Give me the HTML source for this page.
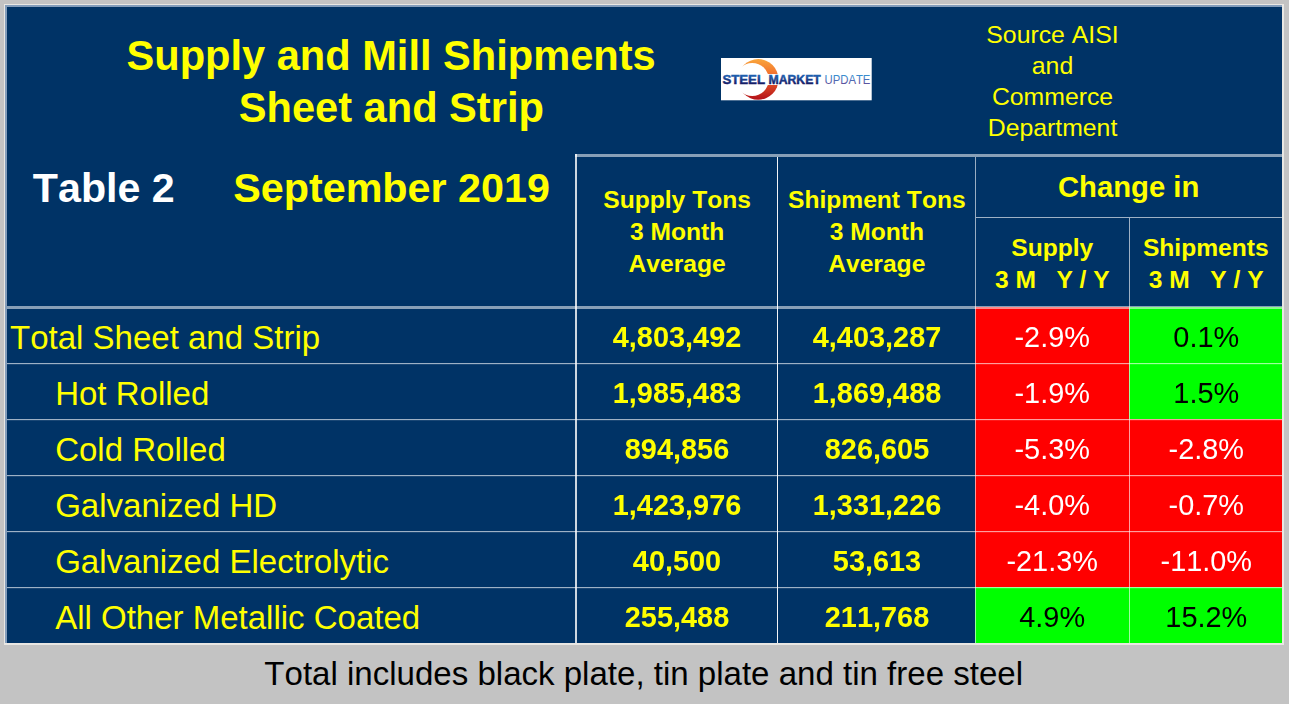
<!DOCTYPE html>
<html><head><meta charset="utf-8"><title>Supply and Mill Shipments</title>
<style>
html,body{margin:0;padding:0}
html,body{width:1289px;height:704px;overflow:hidden;background:#c3c3c3}
#c{position:relative;width:1289px;height:704px;overflow:hidden;background:#c3c3c3;font-family:"Liberation Sans",sans-serif}
.r{position:absolute}
.t{position:absolute;white-space:pre;margin:0;padding:0;font-kerning:none;font-variant-ligatures:none}
</style></head><body><div id="c">
<div class="r" style="left:4px;top:4px;width:1280px;height:641px;background:#e9e7e3"></div>
<div class="r" style="left:5px;top:5px;width:1277px;height:638px;background:#839dbb"></div>
<div class="r" style="left:7px;top:7px;width:1275px;height:636px;background:#003366"></div>
<div class="r" style="left:975px;top:307px;width:154px;height:56px;background:#ff0000"></div>
<div class="r" style="left:1129px;top:307px;width:153px;height:56px;background:#00ff00"></div>
<div class="r" style="left:975px;top:363px;width:154px;height:56px;background:#ff0000"></div>
<div class="r" style="left:1129px;top:363px;width:153px;height:56px;background:#00ff00"></div>
<div class="r" style="left:975px;top:419px;width:154px;height:56px;background:#ff0000"></div>
<div class="r" style="left:1129px;top:419px;width:153px;height:56px;background:#ff0000"></div>
<div class="r" style="left:975px;top:475px;width:154px;height:56px;background:#ff0000"></div>
<div class="r" style="left:1129px;top:475px;width:153px;height:56px;background:#ff0000"></div>
<div class="r" style="left:975px;top:531px;width:154px;height:56px;background:#ff0000"></div>
<div class="r" style="left:1129px;top:531px;width:153px;height:56px;background:#ff0000"></div>
<div class="r" style="left:975px;top:587px;width:154px;height:56px;background:#00ff00"></div>
<div class="r" style="left:1129px;top:587px;width:153px;height:56px;background:#00ff00"></div>
<div class="r" style="left:575px;top:154px;width:707px;height:3px;background:rgba(255,255,255,0.53)"></div>
<div class="r" style="left:7px;top:306px;width:1275px;height:3px;background:rgba(255,255,255,0.53)"></div>
<div class="r" style="left:7px;top:363px;width:1275px;height:1px;background:rgba(255,255,255,0.62)"></div>
<div class="r" style="left:7px;top:364px;width:1275px;height:1px;background:rgba(255,255,255,0.1)"></div>
<div class="r" style="left:7px;top:419px;width:1275px;height:1px;background:rgba(255,255,255,0.62)"></div>
<div class="r" style="left:7px;top:420px;width:1275px;height:1px;background:rgba(255,255,255,0.1)"></div>
<div class="r" style="left:7px;top:475px;width:1275px;height:1px;background:rgba(255,255,255,0.62)"></div>
<div class="r" style="left:7px;top:476px;width:1275px;height:1px;background:rgba(255,255,255,0.1)"></div>
<div class="r" style="left:7px;top:531px;width:1275px;height:1px;background:rgba(255,255,255,0.62)"></div>
<div class="r" style="left:7px;top:532px;width:1275px;height:1px;background:rgba(255,255,255,0.1)"></div>
<div class="r" style="left:7px;top:587px;width:1275px;height:1px;background:rgba(255,255,255,0.62)"></div>
<div class="r" style="left:7px;top:588px;width:1275px;height:1px;background:rgba(255,255,255,0.1)"></div>
<div class="r" style="left:976px;top:217px;width:306px;height:1px;background:rgba(255,255,255,0.62)"></div>
<div class="r" style="left:575px;top:154px;width:2px;height:489px;background:rgba(255,255,255,0.8)"></div>
<div class="r" style="left:777px;top:157px;width:1px;height:486px;background:rgba(255,255,255,0.95)"></div>
<div class="r" style="left:975px;top:157px;width:1px;height:486px;background:rgba(255,255,255,0.6)"></div>
<div class="r" style="left:1129px;top:218px;width:1px;height:425px;background:rgba(255,255,255,0.62)"></div>
<div class="t" style="top:30px;font-size:41.6px;line-height:51px;height:51px;color:#ffff00;font-weight:bold;left:41.10px;width:700px;text-align:center;">Supply and Mill Shipments</div>
<div class="t" style="top:82px;font-size:41.6px;line-height:51px;height:51px;color:#ffff00;font-weight:bold;left:41.35px;width:700px;text-align:center;">Sheet and Strip</div>
<div class="t" style="top:163px;font-size:41.2px;line-height:50px;height:50px;color:#ffffff;font-weight:bold;left:32.85px;">Table 2</div>
<div class="t" style="top:163px;font-size:41.3px;line-height:50px;height:50px;color:#ffff00;font-weight:bold;left:233.20px;">September 2019</div>
<div class="t" style="top:19px;font-size:24.8px;line-height:31px;height:31px;color:#ffff00;left:902.50px;width:300px;text-align:center;">Source AISI</div>
<div class="t" style="top:50px;font-size:24.8px;line-height:31px;height:31px;color:#ffff00;left:902.50px;width:300px;text-align:center;">and</div>
<div class="t" style="top:81px;font-size:24.8px;line-height:31px;height:31px;color:#ffff00;left:902.50px;width:300px;text-align:center;">Commerce</div>
<div class="t" style="top:112px;font-size:24.8px;line-height:31px;height:31px;color:#ffff00;left:902.50px;width:300px;text-align:center;">Department</div>
<div class="t" style="top:184px;font-size:24.6px;line-height:31px;height:31px;color:#ffff00;font-weight:bold;left:527.10px;width:300px;text-align:center;">Supply Tons</div>
<div class="t" style="top:216px;font-size:24.6px;line-height:31px;height:31px;color:#ffff00;font-weight:bold;left:527.10px;width:300px;text-align:center;">3 Month</div>
<div class="t" style="top:248px;font-size:24.6px;line-height:31px;height:31px;color:#ffff00;font-weight:bold;left:527.10px;width:300px;text-align:center;">Average</div>
<div class="t" style="top:184px;font-size:24.6px;line-height:31px;height:31px;color:#ffff00;font-weight:bold;left:726.80px;width:300px;text-align:center;">Shipment Tons</div>
<div class="t" style="top:216px;font-size:24.6px;line-height:31px;height:31px;color:#ffff00;font-weight:bold;left:726.80px;width:300px;text-align:center;">3 Month</div>
<div class="t" style="top:248px;font-size:24.6px;line-height:31px;height:31px;color:#ffff00;font-weight:bold;left:726.80px;width:300px;text-align:center;">Average</div>
<div class="t" style="top:169px;font-size:29.25px;line-height:36px;height:36px;color:#ffff00;font-weight:bold;left:978.60px;width:300px;text-align:center;">Change in</div>
<div class="t" style="top:232px;font-size:24.6px;line-height:31px;height:31px;color:#ffff00;font-weight:bold;left:902.30px;width:300px;text-align:center;">Supply</div>
<div class="t" style="top:264px;font-size:24.6px;line-height:31px;height:31px;color:#ffff00;font-weight:bold;left:902.30px;width:300px;text-align:center;">3 M   Y / Y</div>
<div class="t" style="top:232px;font-size:24.6px;line-height:31px;height:31px;color:#ffff00;font-weight:bold;left:1055.80px;width:300px;text-align:center;">Shipments</div>
<div class="t" style="top:264px;font-size:24.6px;line-height:31px;height:31px;color:#ffff00;font-weight:bold;left:1056.20px;width:300px;text-align:center;">3 M   Y / Y</div>
<div class="t" style="top:317px;font-size:33.0px;line-height:41px;height:41px;color:#ffff00;left:10.06px;">Total Sheet and Strip</div>
<div class="t" style="top:319px;font-size:28.9px;line-height:36px;height:36px;color:#ffff00;font-weight:bold;transform:scaleY(1.05);transform-origin:50% 28px;left:527.00px;width:300px;text-align:center;">4,803,492</div>
<div class="t" style="top:319px;font-size:28.9px;line-height:36px;height:36px;color:#ffff00;font-weight:bold;transform:scaleY(1.05);transform-origin:50% 28px;left:727.00px;width:300px;text-align:center;">4,403,287</div>
<div class="t" style="top:319px;font-size:28.9px;line-height:36px;height:36px;color:#ffffff;transform:scaleY(1.05);transform-origin:50% 28px;left:902.20px;width:300px;text-align:center;">-2.9%</div>
<div class="t" style="top:319px;font-size:28.9px;line-height:36px;height:36px;color:#000000;transform:scaleY(1.05);transform-origin:50% 28px;left:1056.30px;width:300px;text-align:center;">0.1%</div>
<div class="t" style="top:373px;font-size:33.0px;line-height:41px;height:41px;color:#ffff00;left:55.20px;">Hot Rolled</div>
<div class="t" style="top:375px;font-size:28.9px;line-height:36px;height:36px;color:#ffff00;font-weight:bold;transform:scaleY(1.05);transform-origin:50% 28px;left:527.00px;width:300px;text-align:center;">1,985,483</div>
<div class="t" style="top:375px;font-size:28.9px;line-height:36px;height:36px;color:#ffff00;font-weight:bold;transform:scaleY(1.05);transform-origin:50% 28px;left:727.00px;width:300px;text-align:center;">1,869,488</div>
<div class="t" style="top:375px;font-size:28.9px;line-height:36px;height:36px;color:#ffffff;transform:scaleY(1.05);transform-origin:50% 28px;left:902.20px;width:300px;text-align:center;">-1.9%</div>
<div class="t" style="top:375px;font-size:28.9px;line-height:36px;height:36px;color:#000000;transform:scaleY(1.05);transform-origin:50% 28px;left:1056.30px;width:300px;text-align:center;">1.5%</div>
<div class="t" style="top:429px;font-size:33.0px;line-height:41px;height:41px;color:#ffff00;left:55.20px;">Cold Rolled</div>
<div class="t" style="top:431px;font-size:28.9px;line-height:36px;height:36px;color:#ffff00;font-weight:bold;transform:scaleY(1.05);transform-origin:50% 28px;left:527.00px;width:300px;text-align:center;">894,856</div>
<div class="t" style="top:431px;font-size:28.9px;line-height:36px;height:36px;color:#ffff00;font-weight:bold;transform:scaleY(1.05);transform-origin:50% 28px;left:727.00px;width:300px;text-align:center;">826,605</div>
<div class="t" style="top:431px;font-size:28.9px;line-height:36px;height:36px;color:#ffffff;transform:scaleY(1.05);transform-origin:50% 28px;left:902.20px;width:300px;text-align:center;">-5.3%</div>
<div class="t" style="top:431px;font-size:28.9px;line-height:36px;height:36px;color:#ffffff;transform:scaleY(1.05);transform-origin:50% 28px;left:1056.30px;width:300px;text-align:center;">-2.8%</div>
<div class="t" style="top:485px;font-size:33.0px;line-height:41px;height:41px;color:#ffff00;left:55.20px;">Galvanized HD</div>
<div class="t" style="top:487px;font-size:28.9px;line-height:36px;height:36px;color:#ffff00;font-weight:bold;transform:scaleY(1.05);transform-origin:50% 28px;left:527.00px;width:300px;text-align:center;">1,423,976</div>
<div class="t" style="top:487px;font-size:28.9px;line-height:36px;height:36px;color:#ffff00;font-weight:bold;transform:scaleY(1.05);transform-origin:50% 28px;left:727.00px;width:300px;text-align:center;">1,331,226</div>
<div class="t" style="top:487px;font-size:28.9px;line-height:36px;height:36px;color:#ffffff;transform:scaleY(1.05);transform-origin:50% 28px;left:902.20px;width:300px;text-align:center;">-4.0%</div>
<div class="t" style="top:487px;font-size:28.9px;line-height:36px;height:36px;color:#ffffff;transform:scaleY(1.05);transform-origin:50% 28px;left:1056.30px;width:300px;text-align:center;">-0.7%</div>
<div class="t" style="top:541px;font-size:33.0px;line-height:41px;height:41px;color:#ffff00;left:55.20px;">Galvanized Electrolytic</div>
<div class="t" style="top:543px;font-size:28.9px;line-height:36px;height:36px;color:#ffff00;font-weight:bold;transform:scaleY(1.05);transform-origin:50% 28px;left:527.00px;width:300px;text-align:center;">40,500</div>
<div class="t" style="top:543px;font-size:28.9px;line-height:36px;height:36px;color:#ffff00;font-weight:bold;transform:scaleY(1.05);transform-origin:50% 28px;left:727.00px;width:300px;text-align:center;">53,613</div>
<div class="t" style="top:543px;font-size:28.9px;line-height:36px;height:36px;color:#ffffff;transform:scaleY(1.05);transform-origin:50% 28px;left:902.20px;width:300px;text-align:center;">-21.3%</div>
<div class="t" style="top:543px;font-size:28.9px;line-height:36px;height:36px;color:#ffffff;transform:scaleY(1.05);transform-origin:50% 28px;left:1056.30px;width:300px;text-align:center;">-11.0%</div>
<div class="t" style="top:597px;font-size:33.0px;line-height:41px;height:41px;color:#ffff00;left:55.20px;">All Other Metallic Coated</div>
<div class="t" style="top:599px;font-size:28.9px;line-height:36px;height:36px;color:#ffff00;font-weight:bold;transform:scaleY(1.05);transform-origin:50% 28px;left:527.00px;width:300px;text-align:center;">255,488</div>
<div class="t" style="top:599px;font-size:28.9px;line-height:36px;height:36px;color:#ffff00;font-weight:bold;transform:scaleY(1.05);transform-origin:50% 28px;left:727.00px;width:300px;text-align:center;">211,768</div>
<div class="t" style="top:599px;font-size:28.9px;line-height:36px;height:36px;color:#000000;transform:scaleY(1.05);transform-origin:50% 28px;left:902.20px;width:300px;text-align:center;">4.9%</div>
<div class="t" style="top:599px;font-size:28.9px;line-height:36px;height:36px;color:#000000;transform:scaleY(1.05);transform-origin:50% 28px;left:1056.30px;width:300px;text-align:center;">15.2%</div>
<div class="t" style="top:653px;font-size:33.05px;line-height:41px;height:41px;color:#000000;left:193.70px;width:900px;text-align:center;">Total includes black plate, tin plate and tin free steel</div>
<svg class="r" style="left:715px;top:52px" width="165" height="54" viewBox="715 52 165 54">
<defs>
<linearGradient id="gc" x1="0" y1="59" x2="0" y2="100" gradientUnits="userSpaceOnUse"><stop offset="0" stop-color="#f9a63c"/><stop offset="0.45" stop-color="#f0652a"/><stop offset="1" stop-color="#b20f18"/></linearGradient>
<linearGradient id="gb" x1="0" y1="75" x2="0" y2="83.5" gradientUnits="userSpaceOnUse"><stop offset="0" stop-color="#1d62b2"/><stop offset="1" stop-color="#151f68"/></linearGradient>
<linearGradient id="gu" x1="0" y1="75" x2="0" y2="83.5" gradientUnits="userSpaceOnUse"><stop offset="0" stop-color="#3790d2"/><stop offset="1" stop-color="#5b549f"/></linearGradient>
<mask id="mk" maskUnits="userSpaceOnUse" x="715" y="52" width="165" height="54"><rect x="715" y="52" width="165" height="54" fill="#fff"/><circle cx="752.2" cy="79.5" r="16.6" fill="#000"/></mask>
</defs>
<rect x="721" y="58" width="150.7" height="42.3" fill="#ffffff"/>
<circle cx="758.2" cy="79.4" r="20.3" fill="url(#gc)" mask="url(#mk)"/>
<rect x="765" y="74" width="15" height="11" fill="#ffffff"/>
<g font-family="Liberation Sans, sans-serif" font-size="12.35" style="font-kerning:none">
<text x="722.4" y="83.5" font-weight="bold" fill="url(#gb)" stroke="url(#gb)" stroke-width="0.45" textLength="42.6" lengthAdjust="spacingAndGlyphs">STEEL</text>
<text x="768.5" y="83.5" font-weight="bold" fill="url(#gb)" stroke="url(#gb)" stroke-width="0.45" textLength="52.3" lengthAdjust="spacingAndGlyphs">MARKET</text>
<text x="824.5" y="83.5" fill="url(#gu)" textLength="45.9" lengthAdjust="spacingAndGlyphs">UPDATE</text>
</g>
</svg>

</div></body></html>
